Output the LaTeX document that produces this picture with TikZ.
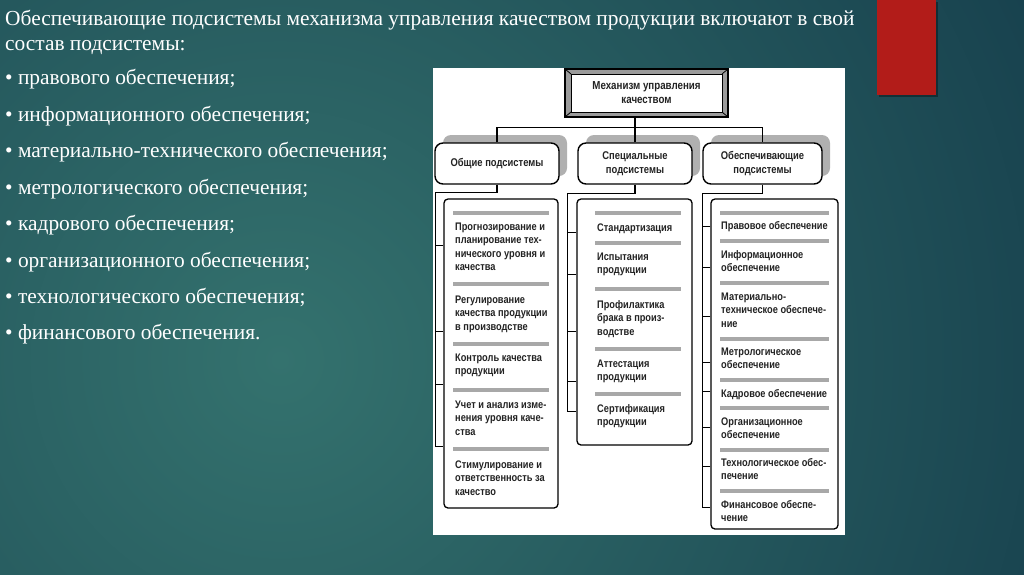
\documentclass[tikz,border=0pt]{standalone}
\usepackage{fontspec}
\setmainfont{Liberation Serif}
\newfontfamily\dfont[FakeStretch=0.84]{Liberation Sans}
\usetikzlibrary{calc,shadows}
\definecolor{bgin}{RGB}{52,114,110}
\definecolor{bgout}{RGB}{18,56,72}
\definecolor{redr}{RGB}{178,28,25}
\definecolor{barc}{RGB}{168,168,168}
\definecolor{shd}{RGB}{176,176,176}
\definecolor{bev}{RGB}{155,155,155}
\definecolor{dtxt}{RGB}{35,35,35}
\newcommand\ml[1]{\begin{tabular}[t]{@{}l@{}}#1\end{tabular}}
\begin{document}
\begin{tikzpicture}[x=1pt,y=-1pt,
 lt/.style={anchor=base west, inner sep=0, text=white, font=\fontsize{21.4}{26}\selectfont},
 it/.style={anchor=base west, inner sep=0, text=dtxt, font=\dfont\bfseries\fontsize{11}{13.6}\selectfont},
 hd/.style={draw, line width=1.4pt, rounded corners=8pt, fill=white, minimum height=41pt, align=center, inner sep=0, text=dtxt, font=\dfont\bfseries\fontsize{11.2}{14}\selectfont, general shadow={fill=shd, shadow xshift=8pt, shadow yshift=8pt}},
 lb/.style={draw, line width=1.3pt, rounded corners=4pt, fill=white, inner sep=0},
 sep/.style={draw=barc, line width=3.2pt},
 cn/.style={draw, line width=1.1pt},
]
\useasboundingbox (0,0) rectangle (1024,574);
\begin{scope}
\clip (0,0) rectangle (1024,574);
\shade[inner color=bgin, outer color=bgout] (280,360) circle (1000);
\end{scope}
% red block
\fill[black, opacity=.35] (879,2) rectangle (938,97);
\fill[redr] (877,0) rectangle (936,95);
% left text
\node[lt] (title1) at (5,25) {Обеспечивающие подсистемы механизма управления качеством продукции включают в свой};
\node[lt] (title2) at (5,50) {состав подсистемы:};
\node[lt] (b1) at (5,84) {• правового обеспечения;};
\node[lt] (b2) at (5,121) {• информационного обеспечения;};
\node[lt] (b3) at (5,157) {• материально-технического обеспечения;};
\node[lt] (b4) at (5,194) {• метрологического обеспечения;};
\node[lt] (b5) at (5,230) {• кадрового обеспечения;};
\node[lt] (b6) at (5,267) {• организационного обеспечения;};
\node[lt] (b7) at (5,303) {• технологического обеспечения;};
\node[lt] (b8) at (5,339) {• финансового обеспечения.};
% panel
\fill[white] (433,68) rectangle (845,535);
% top box
\node[draw, line width=1.2pt, fill=bev, minimum width=163pt, minimum height=48pt, inner sep=0,
  text=dtxt, align=center, font=\dfont\bfseries\fontsize{11.6}{14}\selectfont,
  path picture={
    \draw[line width=1pt, fill=white] ([shift={(6pt,-5pt)}]path picture bounding box.north west) rectangle ([shift={(-6pt,5pt)}]path picture bounding box.south east);
    \draw[line width=0.8pt] (path picture bounding box.north west) -- ++(6pt,-5pt);
    \draw[line width=0.8pt] (path picture bounding box.north east) -- ++(-6pt,-5pt);
    \draw[line width=0.8pt] (path picture bounding box.south west) -- ++(6pt,5pt);
    \draw[line width=0.8pt] (path picture bounding box.south east) -- ++(-6pt,5pt);
  }] (top) at (646.5,93) {Механизм управления\\качеством};
% headers
\node[hd, minimum width=124pt] (h1) at (497,163.5) {Общие подсистемы};
\node[hd, minimum width=114pt] (h2) at (635,163.5) {Специальные\\подсистемы};
\node[hd, minimum width=119pt] (h3) at (762.5,163.5) {Обеспечивающие\\подсистемы};
\draw[cn] (h1.north) -- ++(0,-15) -| (h3.north);
\draw[cn] (h2.north) -- (h2.north |- top.south);
% list boxes
\node[lb, minimum width=114pt, minimum height=309pt] (l1) at (501,353.5) {};
\node[lb, minimum width=115pt, minimum height=246pt] (l2) at (634.5,322) {};
\node[lb, minimum width=127pt, minimum height=330pt] (l3) at (774.5,364) {};
% connectors to lists
\draw[cn] (h1.south) -- ++(0,8) -| ($(l1.north west)+(-8,248)$) -- ++(8,0);
\foreach \d in {47,133,186} \draw[cn] ($(l1.north west)+(0,\d)$) -- ++(-8,0);
\draw[cn] (h2.south) -- ++(0,9) -| ($(l2.north west)+(-9,213)$) -- ++(9,0);
\foreach \d in {34,76,133,183} \draw[cn] ($(l2.north west)+(0,\d)$) -- ++(-9,0);
\draw[cn] (h3.south) -- ++(0,9) -| ($(l3.north west)+(-8,309)$) -- ++(8,0);
\foreach \d in {28,69,118,164,193,229,268} \draw[cn] ($(l3.north west)+(0,\d)$) -- ++(-8,0);
% separator bars
\foreach \y in {213,284,344,390,449} \draw[sep] (453,\y) -- (549,\y);
\foreach \y in {213,243,289,349,394} \draw[sep] (595,\y) -- (681,\y);
\foreach \y in {213,241,283,339,380,408,450,491} \draw[sep] (720,\y) -- (829,\y);
% list 1
\node[it] (a1) at (455,230) {\ml{Прогнозирование и\\планирование тех-\\нического уровня и\\качества}};
\node[it] (a2) at (455,303) {\ml{Регулирование\\качества продукции\\в производстве}};
\node[it] (a3) at (455,361) {\ml{Контроль качества\\продукции}};
\node[it] (a4) at (455,408) {\ml{Учет и анализ изме-\\нения уровня каче-\\ства}};
\node[it] (a5) at (455,468) {\ml{Стимулирование и\\ответственность за\\качество}};
% list 2
\node[it] (s1) at (597,231) {\ml{Стандартизация}};
\node[it] (s2) at (597,260) {\ml{Испытания\\продукции}};
\node[it] (s3) at (597,308) {\ml{Профилактика\\брака в произ-\\водстве}};
\node[it] (s4) at (597,367) {\ml{Аттестация\\продукции}};
\node[it] (s5) at (597,412) {\ml{Сертификация\\продукции}};
% list 3
\node[it] (o1) at (721,229) {\ml{Правовое обеспечение}};
\node[it] (o2) at (721,258) {\ml{Информационное\\обеспечение}};
\node[it] (o3) at (721,300) {\ml{Материально-\\техническое обеспече-\\ние}};
\node[it] (o4) at (721,355) {\ml{Метрологическое\\обеспечение}};
\node[it] (o5) at (721,397) {\ml{Кадровое обеспечение}};
\node[it] (o6) at (721,425) {\ml{Организационное\\обеспечение}};
\node[it] (o7) at (721,466) {\ml{Технологическое обес-\\печение}};
\node[it] (o8) at (721,508) {\ml{Финансовое обеспе-\\чение}};
\end{tikzpicture}
\end{document}
